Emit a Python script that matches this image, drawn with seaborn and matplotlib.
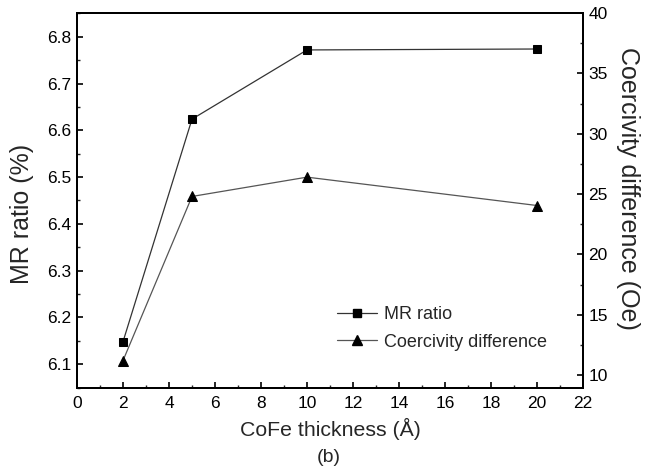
import matplotlib
matplotlib.use("Agg")
import matplotlib.pyplot as plt
from matplotlib.ticker import MultipleLocator
from matplotlib.lines import Line2D
import seaborn as sns
import pandas as pd

thickness = [2, 5, 10, 20]
mr_ratio = [6.148, 6.624, 6.772, 6.774]
coercivity = [11.2, 24.8, 26.4, 24.05]

df = pd.DataFrame({"thickness": thickness, "mr": mr_ratio, "hc": coercivity})

sns.set_theme(style="ticks")
plt.rcParams["font.family"] = ["Liberation Sans", "DejaVu Sans"]

fig = plt.figure(figsize=(6.61, 4.74), dpi=100)
ax = fig.add_axes([77 / 661, 1 - 388 / 474, 506 / 661, 375 / 474])
ax2 = ax.twinx()

sq_style = dict(marker="s", markersize=5.8, markerfacecolor="black",
                markeredgecolor="black")
tri_style = dict(marker="^", markersize=7.8, markerfacecolor="black",
                 markeredgecolor="black")

sns.lineplot(data=df, x="thickness", y="mr", ax=ax, color="#333333", lw=0.9,
             **sq_style)
sns.lineplot(data=df, x="thickness", y="hc", ax=ax2, color="#555555", lw=0.9,
             **tri_style)

ax.set_xlim(0, 22)
ax.set_ylim(6.049, 6.851)
ax2.set_ylim(8.93, 40)

ax.xaxis.set_major_locator(MultipleLocator(2))
ax.xaxis.set_minor_locator(MultipleLocator(1))
ax.yaxis.set_major_locator(MultipleLocator(0.1))
ax.yaxis.set_minor_locator(MultipleLocator(0.05))
ax2.set_yticks(range(10, 41, 5))
ax2.yaxis.set_minor_locator(MultipleLocator(2.5))

for a in (ax, ax2):
    a.tick_params(which="major", direction="in", length=4, width=1.2,
                  labelsize=12.5, colors="black")
    a.tick_params(which="minor", direction="in", length=2.5, width=1.0)
    for s in a.spines.values():
        s.set_linewidth(1.4)
        s.set_color("black")
ax.tick_params(axis="x", pad=6)
ax.tick_params(axis="y", pad=4)
ax2.tick_params(axis="y", pad=4)

ax.set_xlabel("CoFe thickness (Å)", fontsize=15.3, labelpad=5)
ax.set_ylabel("MR ratio (%)", fontsize=18)
ax.yaxis.set_label_coords(-0.085, 0.464)
ax2.set_ylabel("Coercivity difference (Oe)", fontsize=18, rotation=270)
ax2.yaxis.set_label_coords(1.113, 0.533)

fig.text(329 / 661, 1 - 458 / 474, "(b)", ha="center", va="center",
         fontsize=14)

handles = [
    Line2D([], [], color="#333333", lw=0.9, **sq_style),
    Line2D([], [], color="#555555", lw=0.9, **tri_style),
]
ax.legend(handles, ["MR ratio", "Coercivity difference"], frameon=False,
          loc="center left", bbox_to_anchor=(0.514, 0.159), fontsize=13,
          borderaxespad=0, borderpad=0, handlelength=2.2,
          handletextpad=0.4, labelspacing=0.6)

fig.savefig("out.png", dpi=100)
